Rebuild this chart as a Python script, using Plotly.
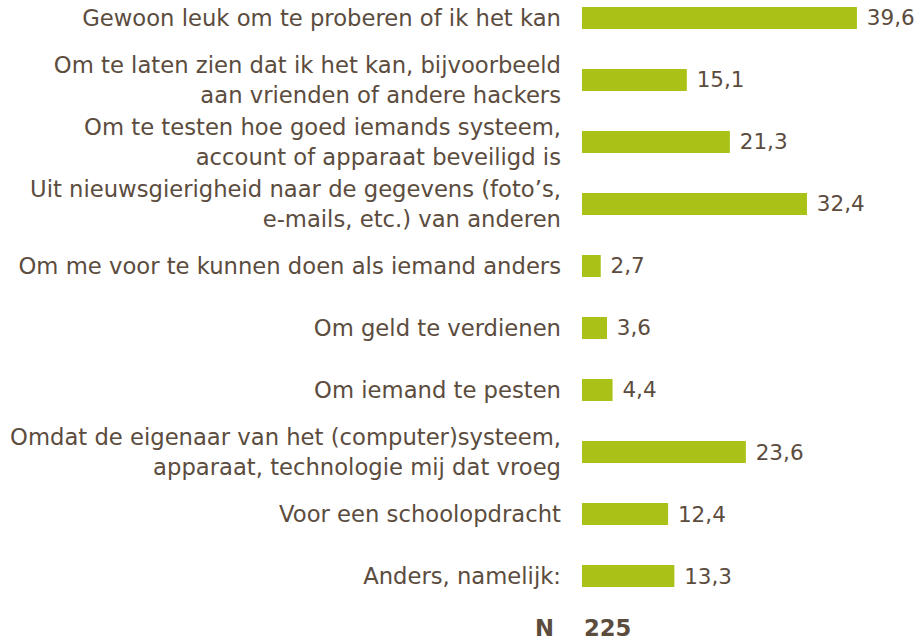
import plotly.graph_objects as go

categories = [
    "Gewoon leuk om te proberen of ik het kan",
    "Om te laten zien dat ik het kan, bijvoorbeeld<br>aan vrienden of andere hackers",
    "Om te testen hoe goed iemands systeem,<br>account of apparaat beveiligd is",
    "Uit nieuwsgierigheid naar de gegevens (foto’s,<br>e-mails, etc.) van anderen",
    "Om me voor te kunnen doen als iemand anders",
    "Om geld te verdienen",
    "Om iemand te pesten",
    "Omdat de eigenaar van het (computer)systeem,<br>apparaat, technologie mij dat vroeg",
    "Voor een schoolopdracht",
    "Anders, namelijk:",
]
values = [39.6, 15.1, 21.3, 32.4, 2.7, 3.6, 4.4, 23.6, 12.4, 13.3]
n_label = "N"
n_value = "225"

TEXT = "#5b4c3e"
BAR = "#aac218"
FONT = "DejaVu Sans, Verdana, sans-serif"
FS = 22.7
FS_VAL = 21.5

fig = go.Figure(go.Bar(
    y=categories,
    x=values,
    orientation="h",
    marker=dict(color=BAR, line=dict(width=0)),
    width=0.355,
    texttemplate=" %{x:.1f}",
    textposition="outside",
    constraintext="none",
    cliponaxis=False,
    hoverinfo="skip",
    textfont=dict(family=FONT, size=FS_VAL, color=TEXT),
))

fig.update_layout(
    width=918,
    height=640,
    separators=",.",
    paper_bgcolor="white",
    plot_bgcolor="white",
    showlegend=False,
    margin=dict(l=582, r=18, t=0, b=40, autoexpand=False),
    font=dict(family=FONT, size=FS, color=TEXT),
    xaxis=dict(range=[0, 45.8], visible=False, fixedrange=True, automargin=False),
    yaxis=dict(
        type="category",
        categoryorder="array",
        categoryarray=categories,
        range=[9.387, -0.29],
        showgrid=False,
        zeroline=False,
        showline=False,
        ticks="",
        automargin=False,
        fixedrange=True,
        ticklabelstandoff=20,
        tickfont=dict(family=FONT, size=FS, color=TEXT),
    ),
    annotations=[
        dict(text="<b>" + n_label + "</b>", xref="paper", yref="paper",
             x=-0.082, y=-0.047, xanchor="right", yanchor="middle", showarrow=False,
             font=dict(family=FONT, size=FS, color=TEXT)),
        dict(text="<b>" + n_value + "</b>", xref="paper", yref="paper",
             x=0.0, y=-0.047, xanchor="left", yanchor="middle", showarrow=False,
             font=dict(family=FONT, size=FS, color=TEXT)),
    ],
)

fig.write_html("out.html", config={"displayModeBar": False},
               post_script="document.body.style.margin='0';")
